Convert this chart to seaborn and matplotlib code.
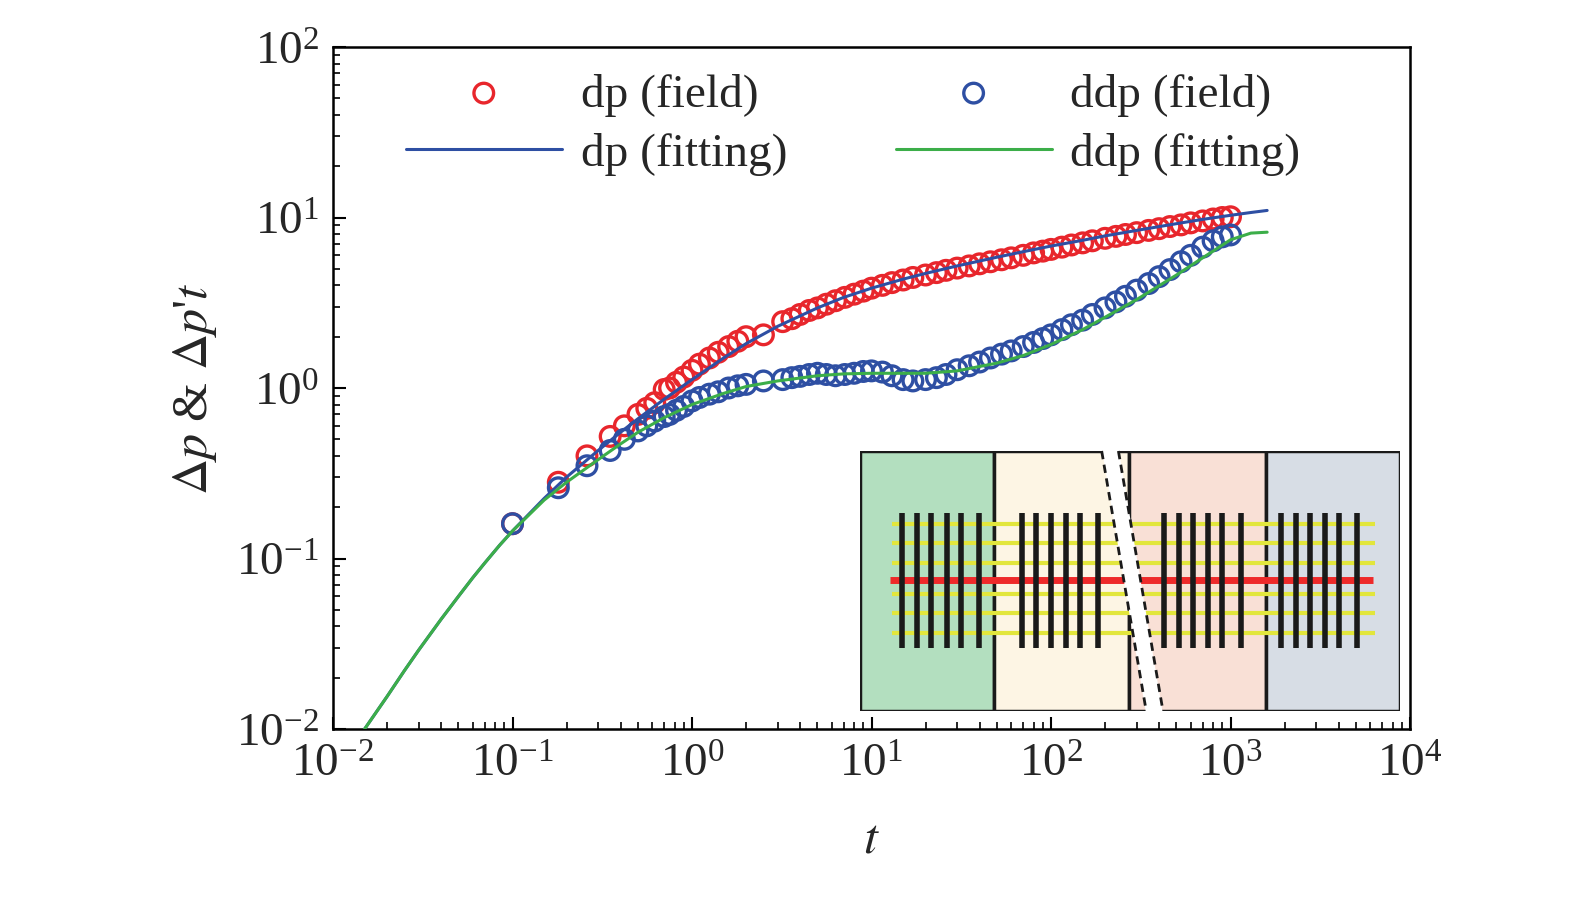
import numpy as np
import matplotlib
matplotlib.use('Agg')
import matplotlib.pyplot as plt
import seaborn as sns
from matplotlib.patches import Rectangle, Polygon

# --- data ---
t_field = [0.1, 0.18, 0.26, 0.35, 0.42, 0.5, 0.56, 0.62, 0.7, 0.75, 0.82, 0.9, 1.0, 1.1, 1.25, 1.4, 1.6, 1.8, 2.0, 2.5,
           3.2, 3.6, 4.0, 4.5, 5.0, 5.6, 6.3, 7.1, 8.0, 9.0, 10, 11.5, 13, 15, 17, 20, 23, 26, 30, 35, 40, 46, 53,
           60, 70, 80, 90, 100, 115, 130, 150, 170, 200, 230, 260, 300, 350, 400, 460, 530, 600, 700, 800, 900, 1000]
dp_field = [0.16, 0.28, 0.4, 0.52, 0.6, 0.7, 0.76, 0.82, 0.98, 1.0, 1.08, 1.16, 1.27, 1.38, 1.5, 1.62, 1.75, 1.88, 2.0, 2.05,
            2.45, 2.55, 2.7, 2.85, 2.95, 3.1, 3.25, 3.4, 3.55, 3.7, 3.85, 4.0, 4.15, 4.3, 4.45, 4.6, 4.75, 4.9, 5.05, 5.2, 5.35, 5.5, 5.65,
            5.8, 6.0, 6.2, 6.35, 6.5, 6.7, 6.9, 7.1, 7.3, 7.55, 7.75, 7.95, 8.15, 8.4, 8.6, 8.85, 9.05, 9.3, 9.55, 9.8, 10.0, 10.1]
ddp_field = [0.16, 0.26, 0.35, 0.43, 0.5, 0.56, 0.6, 0.64, 0.68, 0.7, 0.74, 0.78, 0.84, 0.88, 0.92, 0.95, 1.0, 1.03, 1.05, 1.1,
             1.12, 1.15, 1.17, 1.2, 1.22, 1.2, 1.18, 1.2, 1.22, 1.25, 1.26, 1.24, 1.18, 1.12, 1.1, 1.12, 1.15, 1.2, 1.28, 1.35, 1.42, 1.5, 1.58,
             1.65, 1.75, 1.85, 1.95, 2.05, 2.2, 2.35, 2.5, 2.7, 2.95, 3.2, 3.45, 3.75, 4.1, 4.5, 4.95, 5.5, 6.0, 6.7, 7.3, 7.7, 7.9]

t_fit = [0.015, 0.02, 0.025, 0.03, 0.04, 0.05, 0.06, 0.07, 0.085, 0.1, 0.15, 0.2, 0.3, 0.4, 0.5, 0.7, 1.0, 1.5, 2, 3, 5, 7, 10, 15, 20, 30, 50, 70,
         100, 150, 200, 300, 500, 700, 1000, 1300, 1600]
dp_fit = [0.01, 0.0155, 0.022, 0.029, 0.044, 0.06, 0.077, 0.094, 0.12, 0.145, 0.225, 0.3, 0.43, 0.55, 0.66, 0.86, 1.12, 1.5, 1.82, 2.3, 2.95, 3.4, 3.85, 4.35,
          4.7, 5.2, 5.85, 6.3, 6.8, 7.35, 7.8, 8.4, 9.2, 9.75, 10.3, 10.7, 11.0]
ddp_fit = [0.01, 0.0155, 0.022, 0.029, 0.044, 0.06, 0.077, 0.094, 0.12, 0.145, 0.22, 0.28, 0.38, 0.47, 0.55, 0.67, 0.8, 0.93, 1.02, 1.1, 1.18, 1.21, 1.22, 1.22,
           1.22, 1.26, 1.4, 1.55, 1.8, 2.2, 2.6, 3.3, 4.6, 5.8, 7.4, 8.1, 8.2]

RED, BLUE, GREEN = '#e8262c', '#2e4fa3', '#3cae49'

sns.set_style('white')
plt.rcParams['font.family'] = ['Liberation Serif', 'DejaVu Serif']
plt.rcParams['mathtext.fontset'] = 'stix'

fig = plt.figure(figsize=(15.75, 9.03), dpi=100)
ax = fig.add_axes([333/1575, 1 - 730/903, (1410-333)/1575, (730-48)/903])

sns.scatterplot(x=t_field, y=dp_field, ax=ax, marker='o', s=200, facecolors='none', edgecolor=RED, linewidth=2.4,
                label='dp (field)', zorder=3)
sns.scatterplot(x=t_field, y=ddp_field, ax=ax, marker='o', s=200, facecolors='none', edgecolor=BLUE, linewidth=2.4,
                label='ddp (field)', zorder=3)
ax.plot(t_fit, dp_fit, color=BLUE, lw=2.2, label='dp (fitting)', zorder=4)
ax.plot(t_fit, ddp_fit, color=GREEN, lw=2.2, label='ddp (fitting)', zorder=4)

ax.set_xscale('log')
ax.set_yscale('log')
ax.set_xlim(1e-2, 1e4)
ax.set_ylim(1e-2, 1e2)
for s in ax.spines.values():
    s.set_color('black')
    s.set_linewidth(1.8)
ax.tick_params(which='both', direction='in', color='black', left=True, bottom=True, labelsize=34, pad=10)
ax.tick_params(which='major', length=9, width=1.5)
ax.tick_params(which='minor', length=5, width=1.2)
ax.set_xlabel('$t$', fontsize=36, labelpad=22)
ax.set_ylabel("$\\Delta p$ & $\\Delta p$'$t$", fontsize=36, labelpad=12)

h, l = ax.get_legend_handles_labels()
order = [0, 2, 1, 3]
ax.legend([h[i] for i in order], [l[i] for i in order], ncol=2, frameon=False, fontsize=34,
          loc='upper center', bbox_to_anchor=(0.483, 1.025), columnspacing=2.3, handlelength=3.3, handletextpad=0.4,
          labelspacing=0.35)

# --- inset schematic ---
ins = fig.add_axes([860/1575, 1 - 712/903, 540/1575, 260/903])
ins.set_xlim(40, 1555)
ins.set_ylim(825, 45)
ins.axis('off')
panels = [(40, 415, '#b3dfbf'), (415, 795, '#fdf5e4'), (795, 1178, '#f9e0d6'), (1178, 1555, '#d7dde5')]
for x0, x1, c in panels:
    ins.add_patch(Rectangle((x0, 45), x1 - x0, 780, facecolor=c, edgecolor='#1a1a1a', lw=2.5))
for y in [263, 320, 380, 475, 530, 590]:
    ins.plot([130, 1485], [y, y], color='#e2e63c', lw=3, zorder=3, solid_capstyle='butt')
ins.plot([125, 1480], [432, 432], color='#ee2a2a', lw=5, zorder=3, solid_capstyle='butt')
bars = [158, 200, 240, 283, 323, 375, 495, 535, 575, 617, 657, 708,
        893, 935, 975, 1017, 1057, 1108, 1220, 1262, 1303, 1345, 1385, 1435]
for x in bars:
    ins.plot([x, x], [230, 635], color='#1a1a1a', lw=4, zorder=4, solid_capstyle='butt')
ins.add_patch(Polygon([(718, 35), (765, 35), (890, 835), (843, 835)], facecolor='white', edgecolor='none',
                      zorder=5, clip_on=False))
ins.plot([718, 843], [45, 825], color='#1a1a1a', lw=2, ls=(0, (3, 2)), zorder=6, clip_on=False)
ins.plot([765, 890], [45, 825], color='#1a1a1a', lw=2, ls=(0, (3, 2)), zorder=6, clip_on=False)

fig.savefig('out.png', dpi=100)
